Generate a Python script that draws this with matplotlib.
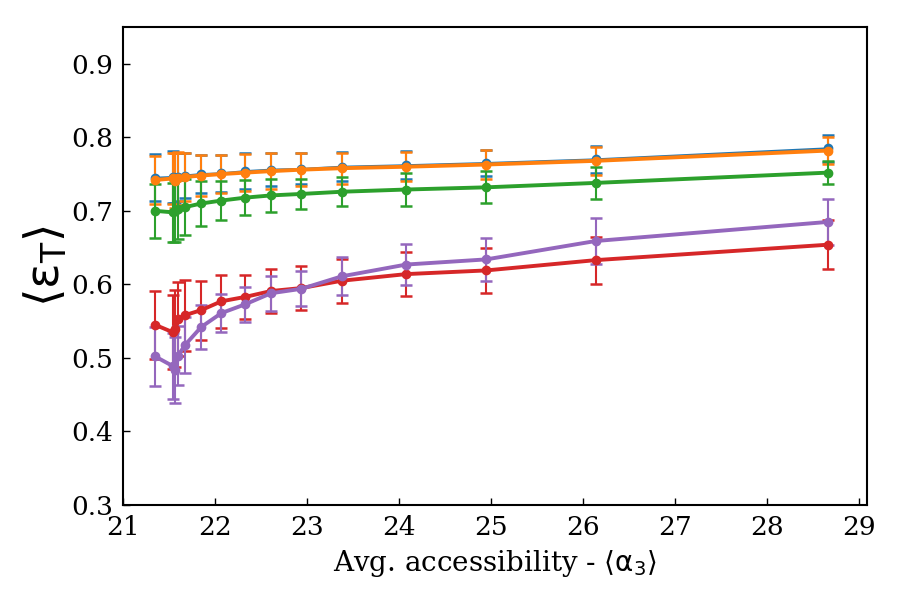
import numpy as np
import matplotlib
matplotlib.use('Agg')
import matplotlib.pyplot as plt

# x positions (avg accessibility)
x = [21.35, 21.54, 21.56, 21.60, 21.67, 21.85, 22.07, 22.33, 22.61, 22.94,
     23.38, 24.08, 24.95, 26.14, 28.67]

blue = [0.745, 0.746, 0.744, 0.746, 0.748, 0.750, 0.751, 0.754, 0.756, 0.757,
        0.760, 0.762, 0.765, 0.770, 0.785]
blue_err = [0.032, 0.036, 0.034, 0.033, 0.030, 0.026, 0.025, 0.024, 0.022, 0.021,
            0.020, 0.019, 0.018, 0.018, 0.018]

orange = [0.742, 0.744, 0.741, 0.744, 0.746, 0.748, 0.750, 0.752, 0.754, 0.756,
          0.758, 0.760, 0.763, 0.768, 0.782]
orange_err = [0.033, 0.035, 0.037, 0.036, 0.033, 0.028, 0.026, 0.025, 0.024, 0.022,
              0.021, 0.020, 0.020, 0.019, 0.018]

green = [0.700, 0.698, 0.700, 0.702, 0.705, 0.710, 0.714, 0.718, 0.721, 0.723,
         0.726, 0.729, 0.732, 0.738, 0.752]
green_err = [0.037, 0.040, 0.042, 0.040, 0.038, 0.030, 0.026, 0.024, 0.022, 0.020,
             0.020, 0.022, 0.022, 0.022, 0.016]

red = [0.545, 0.535, 0.540, 0.553, 0.558, 0.565, 0.577, 0.583, 0.591, 0.595,
       0.605, 0.614, 0.619, 0.633, 0.654]
red_err = [0.046, 0.050, 0.052, 0.050, 0.048, 0.040, 0.036, 0.030, 0.030, 0.030,
           0.030, 0.030, 0.031, 0.032, 0.033]

purple = [0.502, 0.489, 0.484, 0.503, 0.517, 0.542, 0.561, 0.573, 0.588, 0.594,
          0.611, 0.627, 0.634, 0.659, 0.685]
purple_err = [0.040, 0.045, 0.045, 0.040, 0.038, 0.030, 0.026, 0.024, 0.024, 0.024,
              0.026, 0.028, 0.029, 0.031, 0.031]

series = [
    (blue, blue_err, '#1f77b4'),
    (orange, orange_err, '#ff7f0e'),
    (green, green_err, '#2ca02c'),
    (red, red_err, '#d62728'),
    (purple, purple_err, '#9467bd'),
]

plt.rcParams['font.family'] = 'DejaVu Serif'
plt.rcParams['mathtext.fontset'] = 'dejavusans'

fig = plt.figure(figsize=(9, 6), dpi=100)
ax = fig.add_axes([0.1367, 0.1583, 0.8266, 0.7967])

for i, (y, e, c) in enumerate(series):
    lw = 1.5 if i == 0 else 2.8
    ax.errorbar(x, y, yerr=e, color=c, lw=lw, marker='o', ms=6, mec=c,
                elinewidth=1.5, capsize=4, capthick=1.8)

ax.set_xlim(21, 29.09)
ax.set_ylim(0.3, 0.95)
ax.set_xticks(np.arange(21, 30, 1))
ax.set_yticks(np.arange(0.3, 0.91, 0.1))
ax.set_yticklabels(['0.3', '0.4', '0.5', '0.6', '0.7', '0.8', '0.9'])
ax.tick_params(direction='in', length=5, width=1, labelsize=19, pad=7,
               top=False, right=False)
for s in ax.spines.values():
    s.set_linewidth(1.5)

ax.set_xlabel(r'Avg. accessibility - $\langle \mathrm{\alpha}_{3} \rangle$', fontsize=20, labelpad=6)
ax.set_ylabel(r'$\langle \mathrm{\varepsilon}_{\mathrm{T}} \rangle$', fontsize=34, labelpad=1)

fig.savefig('out.png', dpi=100)
